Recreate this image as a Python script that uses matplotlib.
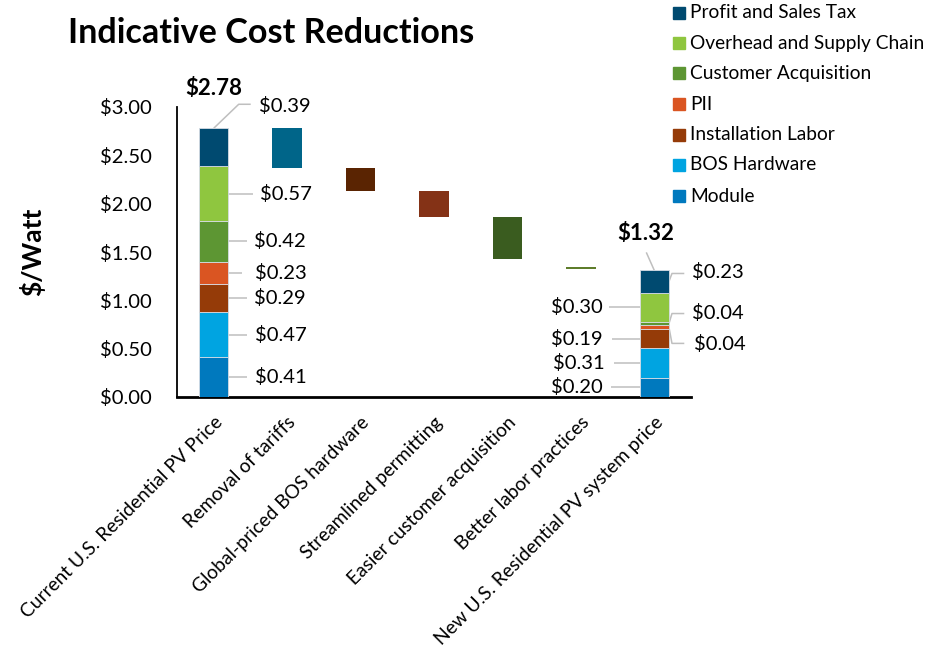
import matplotlib
matplotlib.use("Agg")
import matplotlib.pyplot as plt
from matplotlib.patches import Rectangle

# ---- data -------------------------------------------------------------
categories = [
    "Current U.S. Residential PV Price",
    "Removal of tariffs",
    "Global-priced BOS hardware",
    "Streamlined permitting",
    "Easier customer acquisition",
    "Better labor practices",
    "New U.S. Residential PV system price",
]

components = [
    "Module",
    "BOS Hardware",
    "Installation Labor",
    "PII",
    "Customer Acquisition",
    "Overhead and Supply Chain",
    "Profit and Sales Tax",
]
current_costs = [0.41, 0.47, 0.29, 0.23, 0.42, 0.57, 0.39]
new_costs = [0.20, 0.31, 0.19, 0.04, 0.04, 0.30, 0.23]
totals = [2.78, 1.32]

# reduction steps (bars 2..6): starting level and amount removed
step_start = [2.78, 2.37, 2.13, 1.86, 1.35]
step_reduction = [0.41, 0.24, 0.27, 0.43, 0.03]

# ---- styling ----------------------------------------------------------
component_colors = {
    "Module": "#0079BE",
    "BOS Hardware": "#00A4E1",
    "Installation Labor": "#953B08",
    "PII": "#DA5522",
    "Customer Acquisition": "#5D9633",
    "Overhead and Supply Chain": "#8FC63F",
    "Profit and Sales Tax": "#004A70",
}
step_colors = ["#006589", "#5A2402", "#843216", "#3A5C1F", "#5E7D2B"]
leader = "#BFBFBF"
FONT = "Lato"
plt.rcParams["font.family"] = [FONT, "DejaVu Sans"]
FS = 14.6

W, H = 930, 654
fig = plt.figure(figsize=(W / 100, H / 100), dpi=100)
ax = fig.add_axes([177 / W, 1 - 397 / H, 514 / W, 290 / H])

XPX = 514 / 7.0   # pixels per category
YPX = 290 / 3.0   # pixels per dollar
bw = 0.4


def dx(px):
    return px / XPX


def dy(px):
    return px / YPX


# stacked bars for the current and new prices
for xpos, vals in ((0, current_costs), (6, new_costs)):
    bottom = 0.0
    for name, v in zip(components, vals):
        ax.bar(xpos, v, bw, bottom=bottom, color=component_colors[name],
               edgecolor="#D6DCE4", linewidth=0.6, zorder=3)
        bottom += v

# floating reduction bars
for i, (s, r) in enumerate(zip(step_start, step_reduction)):
    ax.bar(i + 1, r, bw, bottom=s - r, color=step_colors[i], linewidth=0, zorder=3)

ax.set_xlim(-0.5, 6.5)
ax.set_ylim(0, 3.0)
ax.set_yticks([0, 0.5, 1.0, 1.5, 2.0, 2.5, 3.0])
ax.set_yticklabels([f"${t:.2f}" for t in ax.get_yticks()], fontsize=FS)
ax.set_xticks(range(len(categories)))
ax.set_xticklabels(categories, rotation=45, ha="right", rotation_mode="anchor",
                   fontsize=13.8)
ax.tick_params(axis="y", length=0, pad=18)
ax.tick_params(axis="x", length=0, pad=12)
for side in ("top", "right"):
    ax.spines[side].set_visible(False)
ax.spines["left"].set_linewidth(1.3)
ax.spines["bottom"].set_linewidth(2.0)

lab_kw = dict(fontsize=FS, va="center", clip_on=False, zorder=5)


def line(xs, ys):
    ax.plot(xs, ys, color=leader, lw=1.1, clip_on=False, zorder=2,
            solid_capstyle="butt")


# labels for the current price stack
cum = 0.0
mids_cur = []
for v in current_costs:
    mids_cur.append(cum + v / 2)
    cum += v
line_len = [19, 19, 19, 14, 19, 25]
text_gap = [27, 27, 26, 27, 26, 32]
for k in range(6):
    m = mids_cur[k]
    line([bw / 2, bw / 2 + dx(line_len[k])], [m, m])
    ax.text(bw / 2 + dx(text_gap[k]), m, f"${current_costs[k]:.2f}", ha="left", **lab_kw)
# top segment label with bent leader
top = totals[0]
line([0, dx(25), dx(37)], [top, top + dy(24), top + dy(24)])
ax.text(dx(45), top + dy(22), f"${current_costs[6]:.2f}", ha="left", **lab_kw)
ax.text(0, top + dy(40), f"${totals[0]:.2f}", ha="center", fontweight="bold",
        fontsize=16, va="center", clip_on=False)

# labels for the new price stack
cum = 0.0
mids_new = []
for v in new_costs:
    mids_new.append(cum + v / 2)
    cum += v
stack_top = cum
xl = 6 - bw / 2
left_idx = [0, 1, 2, 5]
left_line_start = [43, 40, 42, 45]
left_text_right = [52, 50, 52, 52]
for k, ls, tr in zip(left_idx, left_line_start, left_text_right):
    m = mids_new[k]
    line([6 - dx(ls), xl], [m, m])
    ax.text(6 - dx(tr), m, f"${new_costs[k]:.2f}", ha="right", **lab_kw)

xr = 6 + bw / 2
right_idx = [6, 4, 3]
right_rise = [8, 10, -16]
right_text_dy = [9, 11, -17]
right_text_dx = [38, 38, 40]
for k, rise, tdy, tdx in zip(right_idx, right_rise, right_text_dy, right_text_dx):
    m = mids_new[k]
    line([xr, xr + dx(3), 6 + dx(30)], [m, m + dy(rise), m + dy(rise)])
    ax.text(6 + dx(tdx), m + dy(tdy), f"${new_costs[k]:.2f}", ha="left", **lab_kw)

line([6, 6 - dx(8)], [stack_top, stack_top + dy(18)])
ax.text(6 - dx(9), stack_top + dy(37), f"${totals[1]:.2f}", ha="center",
        fontweight="bold", fontsize=16, va="center", clip_on=False)

# title and axis label
fig.text(68 / W, 1 - 33 / H, "Indicative Cost Reductions", fontsize=24.6,
         fontweight="bold", ha="left", va="center")
fig.text(32 / W, 1 - 252 / H, "$/Watt", fontsize=19, fontweight="bold",
         rotation=90, ha="center", va="center")

# legend, top to bottom
legend_rows = list(reversed(components))
row_y = [13, 43, 73, 104, 135, 165, 196]
for name, yc in zip(legend_rows, row_y):
    fig.patches.append(Rectangle((673 / W, 1 - (yc + 6) / H), 12 / W, 12 / H,
                                 transform=fig.transFigure,
                                 color=component_colors[name]))
    fig.text(690 / W, 1 - yc / H, name, fontsize=13.8, ha="left", va="center")

fig.savefig("out.png", dpi=100, facecolor="white")
